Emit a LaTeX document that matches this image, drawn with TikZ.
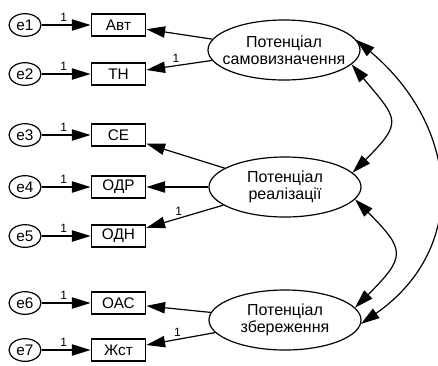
\documentclass[tikz,border=0pt]{standalone}
\usepackage{fontspec}
\setmainfont{Liberation Sans}
\usetikzlibrary{arrows.meta,shapes.geometric}
\tikzset{
  err/.style={draw,ellipse,line width=0.9pt,minimum width=24pt,minimum height=17pt,inner sep=0pt,font=\fontsize{11.5}{12}\selectfont},
  obs/.style={draw,rectangle,line width=0.9pt,minimum width=41pt,minimum height=16.5pt,inner sep=0pt,font=\fontsize{11.5}{12}\selectfont},
  lat/.style={draw,ellipse,line width=0.9pt,minimum width=114pt,minimum height=45pt,inner xsep=-10pt,inner ysep=0pt,align=center,font=\fontsize{12}{13}\selectfont},
  load/.style={line width=0.9pt,-{Triangle[length=14pt,width=8.5pt]}},
  cov/.style={line width=0.9pt,{Triangle[length=14pt,width=8.5pt]}-{Triangle[length=14pt,width=8.5pt]}},
  wt/.style={font=\fontsize{9}{10}\selectfont,inner sep=2pt}
}
\begin{document}
\begin{tikzpicture}[x=0.75pt,y=0.75pt]
    \useasboundingbox (0,0) rectangle (438,-365);
    \node[err] (e1) at (25,-25) {e1};
    \node[err] (e2) at (25,-74) {e2};
    \node[err] (e3) at (25,-135) {e3};
    \node[err] (e4) at (25,-187) {e4};
    \node[err] (e5) at (25,-236) {e5};
    \node[err] (e6) at (25,-303) {e6};
    \node[err] (e7) at (25,-350) {e7};
    \node[obs] (avt) at (118.5,-25) {Авт};
    \node[obs] (tn) at (118.5,-74) {ТН};
    \node[obs] (se) at (118.5,-135) {СЕ};
    \node[obs] (odr) at (118.5,-187) {ОДР};
    \node[obs] (odn) at (118.5,-236) {ОДН};
    \node[obs] (oas) at (118.5,-303) {ОАС};
    \node[obs] (zhst) at (118.5,-350) {Жст};
    \node[lat] (samo) at (284,-50) {Потенціал\\самовизначення};
    \node[lat] (real) at (285,-187) {Потенціал\\реалізації};
    \node[lat] (zber) at (285,-320) {Потенціал\\збереження};
    \foreach \e/\b in {e1/avt,e2/tn,e3/se,e4/odr,e5/odn,e6/oas,e7/zhst}
        \draw[load] (\e) -- node[wt,above,pos=0.45] {1} (\b);
    \draw[load] (samo) -- (avt);
    \draw[load] (samo) -- node[wt,above,pos=0.55] {1} (tn);
    \draw[load] (real) -- (se);
    \draw[load] (real) -- (odr);
    \draw[load] (real) -- node[wt,above,pos=0.58] {1} (odn);
    \draw[load] (zber) -- (oas);
    \draw[load] (zber) -- node[wt,above,pos=0.55] {1} (zhst);
    \draw[cov] (samo.-12) to[out=-50,in=45,looseness=1.7] (real.12);
    \draw[cov] (real.-10) to[out=-45,in=45,looseness=1.7] (zber.10);
    \draw[cov] (samo.8) to[out=-40,in=35,looseness=1.2] (zber.-3);
\end{tikzpicture}
\end{document}
